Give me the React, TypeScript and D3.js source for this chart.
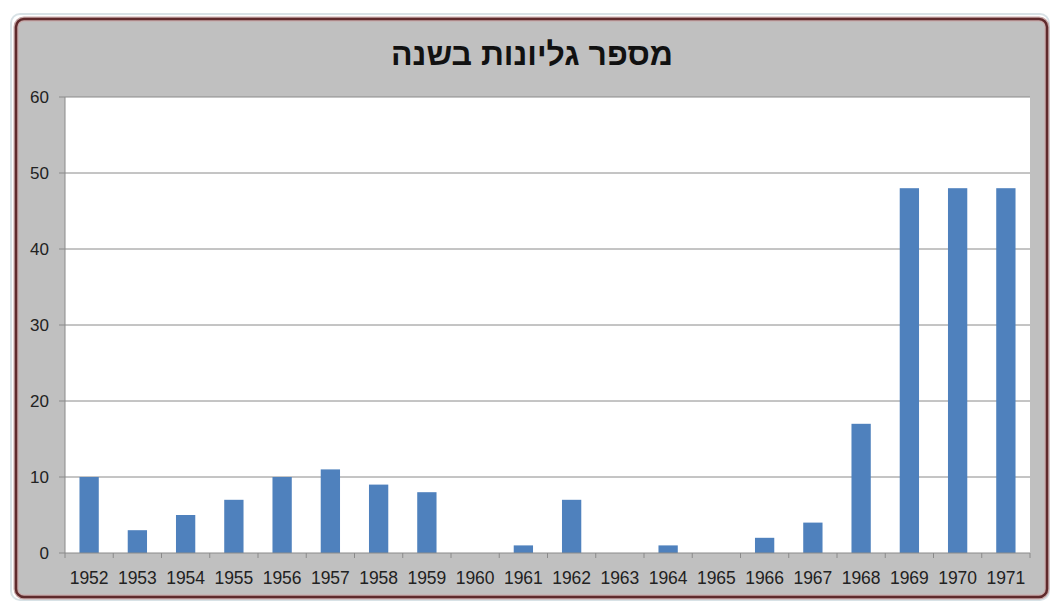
import React from "react";
import * as d3 from "d3";

const years = ["1952","1953","1954","1955","1956","1957","1958","1959","1960","1961","1962","1963","1964","1965","1966","1967","1968","1969","1970","1971"];
const counts = [10,3,5,7,10,11,9,8,0,1,7,0,1,0,2,4,17,48,48,48];
const yTicks = [0,10,20,30,40,50,60];
const title = "מספר גליונות בשנה";

export default function App() {
  const W = 1052, H = 603;
  const plot = { left: 65, right: 1030, top: 97, bottom: 553 };
  const x = d3.scaleBand<string>().domain(years).range([plot.left, plot.right]).paddingInner(0.6).paddingOuter(0.3);
  const xb = d3.scaleBand<string>().domain(years).range([plot.left, plot.right]);
  const y = d3.scaleLinear().domain([0, 60]).range([plot.bottom, plot.top]);
  const font = "Liberation Sans, Arial, sans-serif";
  return (
    <svg width={W} height={H} style={{ position: "absolute", left: 0, top: 0, background: "#fff" }}>
      <rect x={11} y={14} width={1038} height={586} rx={9} fill="none" stroke="#d8e2e6" strokeWidth={2} />
      <rect x={16} y={19} width={1031} height={578} rx={8} fill="#c0c0c0" stroke="#c7a9a9" strokeWidth={5} />
      <rect x={16} y={19} width={1031} height={578} rx={8} fill="none" stroke="#5f2a2c" strokeWidth={2.5} />
      <text x={532} y={65} textAnchor="middle" fontFamily={font} fontWeight="bold" fontSize={32} fill="#111" direction="rtl">{title}</text>
      <rect x={plot.left} y={plot.top} width={plot.right - plot.left} height={plot.bottom - plot.top} fill="#fff" />
      {yTicks.map(t => (
        <g key={t}>
          {t > 0 && <line x1={plot.left} x2={plot.right} y1={y(t)} y2={y(t)} stroke="#8a8a8a" strokeWidth={1} />}
          <line x1={plot.left - 6} x2={plot.left} y1={y(t)} y2={y(t)} stroke="#8a8a8a" />
          <text x={plot.left - 16} y={y(t) + 6} textAnchor="end" fontFamily={font} fontSize={17} fill="#222">{t}</text>
        </g>
      ))}
      <line x1={plot.left} x2={plot.left} y1={plot.top} y2={plot.bottom} stroke="#8a8a8a" />
      {years.map((yr, i) => (
        <rect key={yr} x={x(yr)} y={y(counts[i])} width={x.bandwidth()} height={plot.bottom - y(counts[i])} fill="#4f81bd" />
      ))}
      <line x1={plot.left} x2={plot.right} y1={plot.bottom} y2={plot.bottom} stroke="#8a8a8a" />
      {years.map(yr => (
        <line key={"t" + yr} x1={(xb(yr) as number)} x2={(xb(yr) as number)} y1={plot.bottom} y2={plot.bottom + 5} stroke="#8a8a8a" />
      ))}
      <line x1={plot.right} x2={plot.right} y1={plot.bottom} y2={plot.bottom + 5} stroke="#8a8a8a" />
      {years.map(yr => (
        <text key={"l" + yr} x={(xb(yr) as number) + xb.bandwidth() / 2} y={plot.bottom + 31} textAnchor="middle" fontFamily={font} fontSize={17.5} fill="#222">{yr}</text>
      ))}
    </svg>
  );
}
